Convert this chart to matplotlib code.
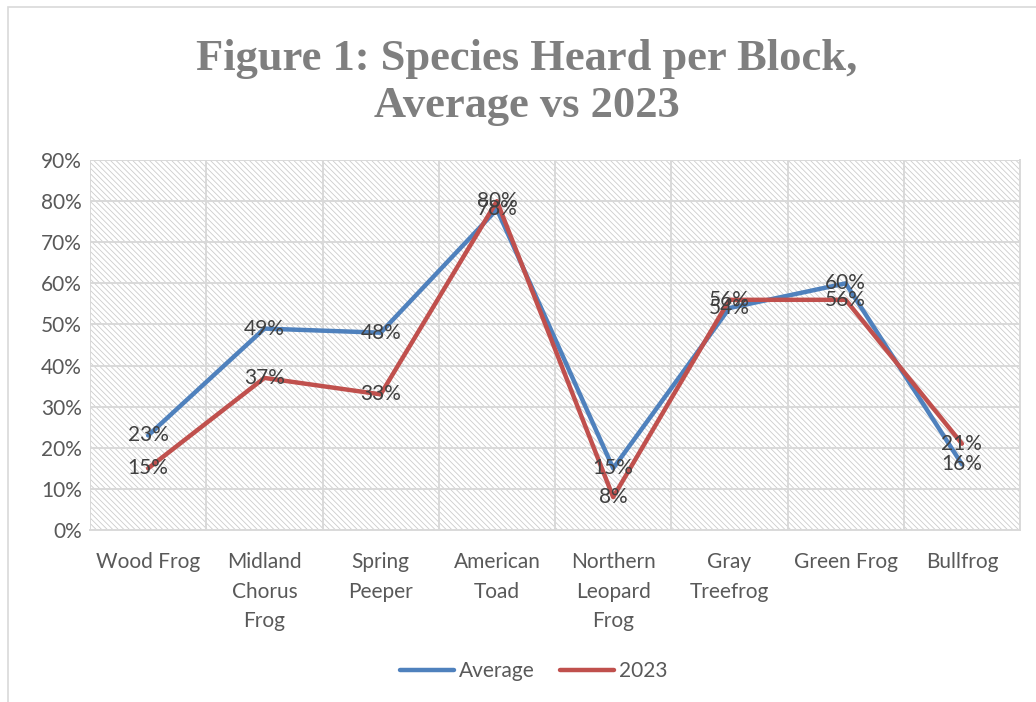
import matplotlib
matplotlib.use("Agg")
import matplotlib.pyplot as plt
from matplotlib.patches import Rectangle
from matplotlib.ticker import MultipleLocator, FuncFormatter

categories = ["Wood Frog", "Midland\nChorus\nFrog", "Spring\nPeeper", "American\nToad",
              "Northern\nLeopard\nFrog", "Gray\nTreefrog", "Green Frog", "Bullfrog"]
average = [23, 49, 48, 78, 15, 54, 60, 16]
year_2023 = [15, 37, 33, 80, 8, 56, 56, 21]
title_lines = ["Figure 1: Species Heard per Block,", "Average vs 2023"]

BLUE = "#4F81BD"
RED = "#C0504D"
TEXT = "#595959"
GRID = "#D9D9D9"
FS = 15

plt.rcParams["font.family"] = ["Lato", "DejaVu Sans"]
plt.rcParams["hatch.color"] = "#CCCCCC"
plt.rcParams["hatch.linewidth"] = 0.6

fig = plt.figure(figsize=(10.36, 7.02), dpi=100)
fig.patches.append(Rectangle((0.008, -0.01), 1.1, 1.0, transform=fig.transFigure,
                             fill=False, edgecolor=GRID, linewidth=1.2))

ax = fig.add_axes([0.0869, 0.245, 0.8977, 0.527])
n = len(categories)
x = list(range(n))
ax.set_xlim(-0.5, n - 0.5)
ax.set_ylim(0, 90)

# hatched plot-area background
ax.add_patch(Rectangle((0, 0), 1, 1, transform=ax.transAxes, facecolor="white",
                       edgecolor="#CCCCCC", hatch="\\\\\\\\\\\\", linewidth=0, zorder=0))

ax.yaxis.set_major_locator(MultipleLocator(10))
ax.yaxis.set_major_formatter(FuncFormatter(lambda v, p: f"{v:.0f}%"))
ax.set_xticks(x)
ax.set_xticklabels(categories, linespacing=1.58)
ax.set_xticks([i - 0.5 for i in range(n + 1)], minor=True)
ax.grid(axis="y", which="major", color=GRID, linewidth=1.4, zorder=1)
ax.grid(axis="x", which="minor", color=GRID, linewidth=1.4, zorder=1)
ax.tick_params(axis="both", which="both", length=0, labelsize=FS, colors=TEXT)
ax.tick_params(axis="x", pad=16)
ax.tick_params(axis="y", pad=6)
for side in ["top", "left"]:
    ax.spines[side].set_visible(False)
for side in ["bottom", "right"]:
    ax.spines[side].set_color(GRID)
    ax.spines[side].set_linewidth(1.4)

ax.plot(x, average, color=BLUE, linewidth=3.2, label="Average", zorder=3,
        solid_capstyle="round", solid_joinstyle="round")
ax.plot(x, year_2023, color=RED, linewidth=3.2, label="2023", zorder=3,
        solid_capstyle="round", solid_joinstyle="round")

for xi, v in zip(x, average):
    ax.text(xi, v, f"{v}%", ha="center", va="center", fontsize=FS, color="#404040", zorder=4)
for xi, v in zip(x, year_2023):
    ax.text(xi, v, f"{v}%", ha="center", va="center", fontsize=FS, color="#404040", zorder=4)

leg = fig.legend(loc="center", bbox_to_anchor=(0.515, 0.044), ncol=2, frameon=False,
                 fontsize=FS, handlelength=2.6, handletextpad=0.25, columnspacing=1.2)
for t in leg.get_texts():
    t.set_color(TEXT)

for line, y_base in zip(title_lines, [1 - 70 / 702, 1 - 117 / 702]):
    fig.text(0.5085, y_base, line, ha="center", va="baseline", fontsize=32,
             fontweight="bold", color="#7F7F7F", family=["Liberation Serif", "DejaVu Serif"])

fig.savefig("out.png", dpi=100)
